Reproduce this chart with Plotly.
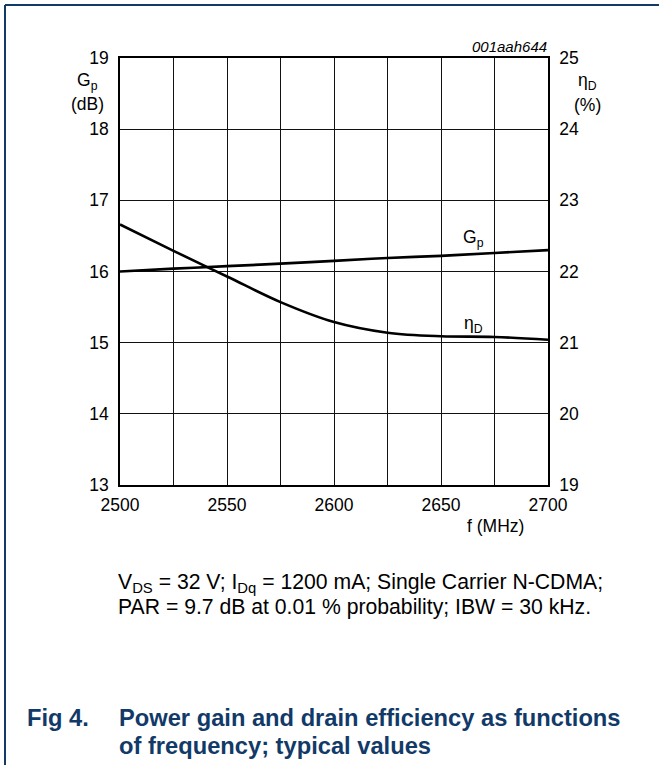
import plotly.graph_objects as go

# ---- data ----
freq = [2500, 2525, 2550, 2575, 2600, 2625, 2650, 2675, 2700]
gp_db = [16.00, 16.04, 16.075, 16.11, 16.15, 16.19, 16.22, 16.26, 16.30]
eta_d_pct = [22.66, 22.29, 21.93, 21.57, 21.29, 21.14, 21.09, 21.08, 21.04]

x_grid = [2500, 2525, 2550, 2575, 2600, 2625, 2650, 2675, 2700]
x_labels = ["2500", "", "2550", "", "2600", "", "2650", "", "2700"]
gp_ticks = [13, 14, 15, 16, 17, 18, 19]
eta_ticks = [19, 20, 21, 22, 23, 24, 25]

# ---- layout geometry (pixels) ----
W, H = 659, 765
L, R, T, B = 120, 548, 58, 485


def px(x):
    return (x - L) / (R - L)


def py(y):
    return (B - y) / (B - T)


FONT = "Liberation Sans, Arial, sans-serif"
NAVY = "#123a68"
TICK = 17.5

fig = go.Figure()
fig.add_trace(go.Scatter(x=freq, y=gp_db, mode="lines", yaxis="y",
                         line=dict(color="black", width=2.6, shape="spline"),
                         showlegend=False, hoverinfo="skip"))
fig.add_trace(go.Scatter(x=freq, y=eta_d_pct, mode="lines", yaxis="y2",
                         line=dict(color="black", width=2.6, shape="spline"),
                         showlegend=False, hoverinfo="skip"))

axis_common = dict(showline=True, linecolor="black", linewidth=1.5,
                   ticks="", zeroline=False, tickfont=dict(family=FONT, size=TICK, color="black"))

fig.update_layout(
    width=W, height=H,
    margin=dict(l=L, r=W - R, t=T, b=H - B, pad=0),
    paper_bgcolor="white", plot_bgcolor="white",
    font=dict(family=FONT, color="black"),
    xaxis=dict(range=[2500, 2700], tickmode="array", tickvals=x_grid, ticktext=x_labels,
               showgrid=True, gridcolor="#111", gridwidth=1, mirror=True,
               ticklabelstandoff=3, **axis_common),
    yaxis=dict(range=[13, 19], tickmode="array", tickvals=gp_ticks,
               showgrid=True, gridcolor="#111", gridwidth=1, mirror=True,
               ticklabelstandoff=6, **axis_common),
    yaxis2=dict(range=[19, 25], tickmode="array", tickvals=eta_ticks, overlaying="y",
                side="right", showgrid=False, ticklabelstandoff=6, **axis_common),
)

ann = []


def add_text(text, x, y, size=TICK, xanchor="center", yanchor="middle", bold=False,
             italic=False, color="black", xref="paper", yref="paper"):
    if bold:
        text = "<b>" + text + "</b>"
    if italic:
        text = "<i>" + text + "</i>"
    ann.append(dict(text=text, x=x, y=y, xref=xref, yref=yref, xanchor=xanchor,
                    yanchor=yanchor, showarrow=False, align="left",
                    font=dict(family=FONT, size=size, color=color)))


# axis titles
add_text("G<sub>p</sub>", px(87), py(82))
add_text("(dB)", px(87), py(104))
add_text("η<sub>D</sub>", px(587), py(82))
add_text("(%)", px(587), py(105))
add_text("f (MHz)", px(526), py(526), xanchor="right")
add_text("001aah644", px(549), py(47), size=15, xanchor="right", italic=True)

# curve labels
add_text("G<sub>p</sub>", 2665, 16.47, xref="x", yref="y")
add_text("η<sub>D</sub>", 2665, 21.25, xref="x", yref="y2")

# note
add_text("V<sub>DS</sub> = 32 V; I<sub>Dq</sub> = 1200 mA; Single Carrier N-CDMA;",
         px(116), py(583), size=21.2, xanchor="left")
add_text("PAR = 9.7 dB at 0.01 % probability; IBW = 30 kHz.",
         px(116), py(607), size=21.2, xanchor="left")

# figure caption
add_text("Fig 4.", px(25), py(718), size=23.7, xanchor="left", bold=True, color=NAVY)
add_text("Power gain and drain efficiency as functions", px(117), py(718), size=23.7,
         xanchor="left", bold=True, color=NAVY)
add_text("of frequency; typical values", px(117), py(746), size=23.7,
         xanchor="left", bold=True, color=NAVY)

fig.update_layout(annotations=ann)

# page frame (top and left rule)
fig.add_shape(type="line", xref="paper", yref="paper", x0=px(5), y0=py(5), x1=px(659), y1=py(5),
              line=dict(color=NAVY, width=2))
fig.add_shape(type="line", xref="paper", yref="paper", x0=px(5), y0=py(5), x1=px(5), y1=py(765),
              line=dict(color=NAVY, width=2))

fig.write_html("out.html", config={"displayModeBar": False},
               post_script="document.body.style.margin='0';document.body.style.overflow='hidden';")
